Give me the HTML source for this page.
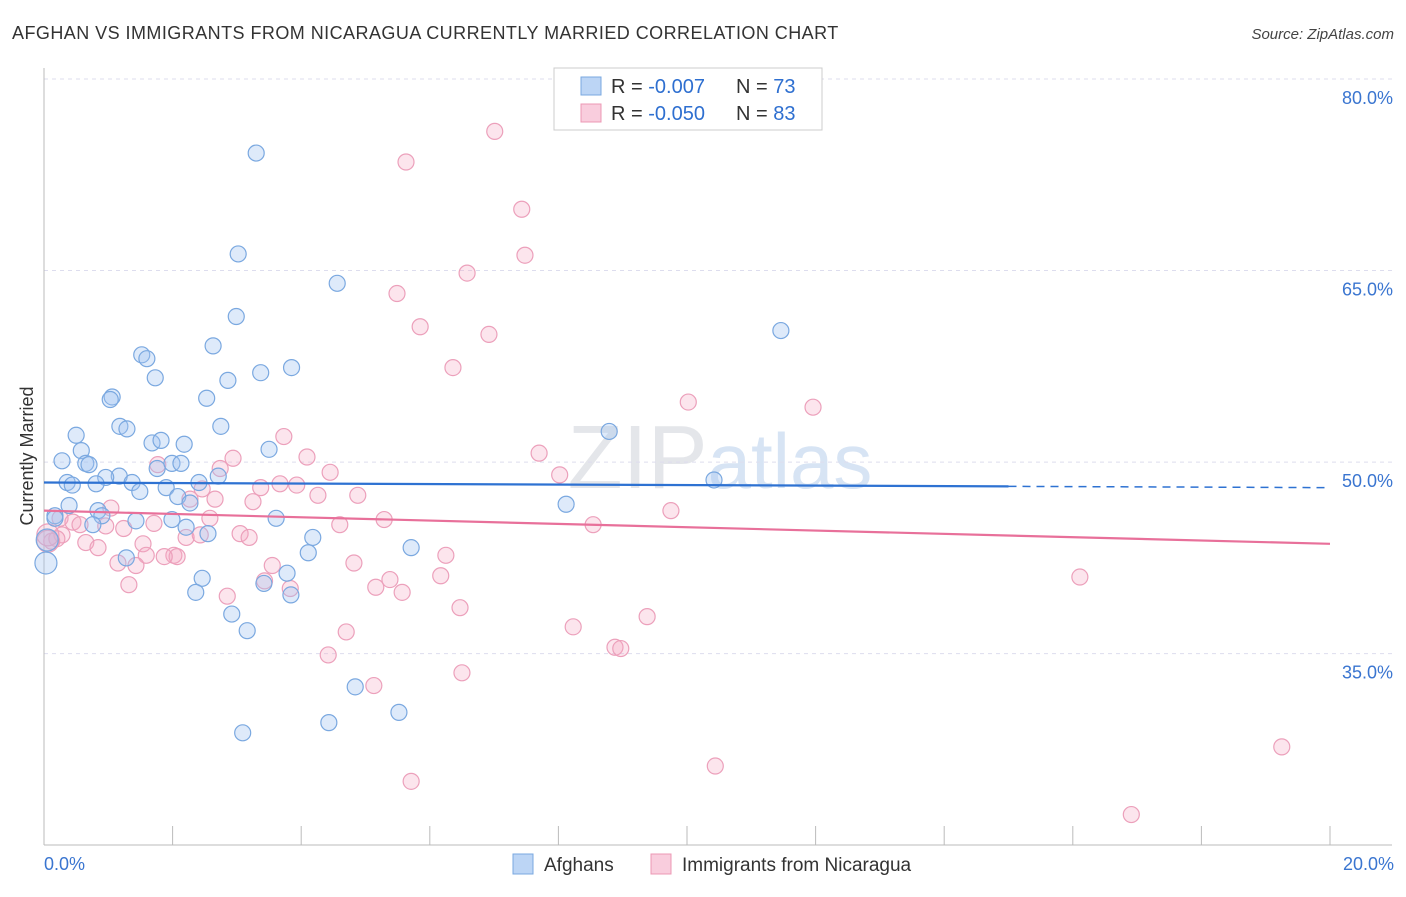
<!DOCTYPE html>
<html><head><meta charset="utf-8"><style>
body{margin:0;background:#fff;font-family:"Liberation Sans",sans-serif;}
svg text{font-family:"Liberation Sans",sans-serif;}
</style></head><body>
<svg id="chart" width="1406" height="892" xmlns="http://www.w3.org/2000/svg">
<text x="12" y="39" font-size="18" fill="#333" letter-spacing="0.45">AFGHAN VS IMMIGRANTS FROM NICARAGUA CURRENTLY MARRIED CORRELATION CHART</text>
<text x="1394" y="39" font-size="15" fill="#444" text-anchor="end" font-style="italic">Source: ZipAtlas.com</text>
<text x="720" y="488" font-size="90" fill="#e4e6ea" text-anchor="middle" font-family="Liberation Serif"><tspan>ZIP</tspan><tspan font-family="Liberation Sans" font-size="78" fill="#d7e4f4">atlas</tspan></text>
<g id="grid"></g>
<g id="axes"></g>
<text transform="translate(33,456) rotate(-90)" font-size="18" fill="#333" text-anchor="middle">Currently Married</text>
<g id="marks"></g>
<g id="lines"></g>
<g>
<rect x="554" y="68" width="268" height="62" fill="#fff" stroke="#ccc"/>
<rect x="581" y="77" width="20" height="18" fill="#bcd5f5" stroke="#7aa8e0"/>
<rect x="581" y="104" width="20" height="18" fill="#f9cddd" stroke="#ec98b4"/>
<text x="611" y="93" font-size="20" fill="#333">R = <tspan fill="#2e6fd0">-0.007</tspan><tspan x="736">N = </tspan><tspan fill="#2e6fd0">73</tspan></text>
<text x="611" y="120" font-size="20" fill="#333">R = <tspan fill="#2e6fd0">-0.050</tspan><tspan x="736">N = </tspan><tspan fill="#2e6fd0">83</tspan></text>
</g>
<g>
<rect x="513" y="854" width="20" height="20" fill="#bcd5f5" stroke="#7aa8e0"/>
<text x="544" y="871" font-size="19" fill="#333">Afghans</text>
<rect x="651" y="854" width="20" height="20" fill="#f9cddd" stroke="#ec98b4"/>
<text x="682" y="871" font-size="19" fill="#333">Immigrants from Nicaragua</text>
</g>
</svg>
<script>
const yTicks=[80,65,50,35];
const xTickLabels=["0.0%","20.0%"];
const afghanX=[3.30,3.02,4.56,2.99,11.46,2.63,1.52,1.60,1.73,2.86,3.37,3.85,1.06,1.03,2.53,1.18,1.29,2.75,0.50,1.68,1.82,2.18,8.79,3.50,0.58,0.28,0.65,0.70,1.76,1.99,2.13,1.17,0.96,1.37,0.36,0.44,0.81,1.49,1.90,2.41,2.71,10.42,2.08,2.27,8.12,0.39,0.84,0.17,0.90,1.43,1.99,3.61,0.76,2.21,2.55,4.18,0.05,0.03,1.28,4.11,5.71,3.78,2.46,3.42,2.36,3.84,2.92,3.16,4.84,5.52,4.43,3.09,0.17];
const afghanY=[74.2,66.3,64.0,61.4,60.3,59.1,58.4,58.1,56.6,56.4,57.0,57.4,55.1,54.9,55.0,52.8,52.6,52.8,52.1,51.5,51.7,51.4,52.4,51.0,50.9,50.1,49.9,49.8,49.5,49.9,49.9,48.9,48.8,48.4,48.4,48.2,48.3,47.7,48.0,48.4,48.9,48.6,47.3,46.8,46.7,46.6,46.2,45.8,45.8,45.4,45.5,45.6,45.1,44.9,44.4,44.1,43.9,42.1,42.5,42.9,43.3,41.3,40.9,40.5,39.8,39.6,38.1,36.8,32.4,30.4,29.6,28.8,45.6];
const nicX=[7.01,5.63,7.43,7.48,6.58,5.49,5.85,6.92,6.36,10.02,11.96,3.73,7.70,2.94,4.09,2.74,4.45,1.77,8.02,3.67,3.93,3.37,2.46,4.26,4.88,2.27,2.66,3.25,9.75,1.04,0.25,0.45,0.56,0.96,1.71,2.58,5.29,4.60,8.54,1.24,0.28,0.20,2.21,2.43,3.05,3.19,0.65,0.84,1.54,0.12,2.02,2.07,1.87,1.59,6.25,1.15,1.43,4.82,3.55,6.17,5.38,16.11,1.32,3.43,5.16,5.57,3.83,2.85,6.47,9.38,8.23,4.70,8.88,8.97,4.42,6.50,5.13,19.25,10.44,5.71,16.91,0.06,0.06];
const nicY=[75.9,73.5,69.8,66.2,64.8,63.2,60.6,60.0,57.4,54.7,54.3,52.0,50.7,50.3,50.4,49.5,49.2,49.8,49.0,48.3,48.2,48.0,47.9,47.4,47.4,47.1,47.1,46.9,46.2,46.4,45.6,45.3,45.1,45.0,45.2,45.6,45.5,45.1,45.1,44.8,44.3,44.0,44.1,44.3,44.4,44.1,43.7,43.3,43.6,43.8,42.7,42.6,42.6,42.7,42.7,42.1,41.9,42.1,41.9,41.1,40.8,41.0,40.4,40.7,40.2,39.8,40.1,39.5,38.6,37.9,37.1,36.7,35.5,35.4,34.9,33.5,32.5,27.7,26.2,25.0,22.4,43.8,44.3];
const afghanTrend=[48.4,48.0];
const nicTrend=[46.2,43.6];
const NS="http://www.w3.org/2000/svg";
const xs=v=>44+v*64.3;
const ys=v=>79+(80-v)*12.77;
function mk(tag,attrs,parent){const e=document.createElementNS(NS,tag);for(const k in attrs)e.setAttribute(k,attrs[k]);parent.appendChild(e);return e;}
const grid=document.getElementById('grid'),axes=document.getElementById('axes'),marks=document.getElementById('marks'),lines=document.getElementById('lines');
yTicks.forEach(t=>{
  const l=mk('line',{x1:44,x2:1392,y1:ys(t),y2:ys(t),stroke:'#dde',"stroke-dasharray":'4,4'},grid);
  
  
  const tx=mk('text',{x:1393,y:ys(t)+25,"font-size":18,fill:'#3a75d0',"text-anchor":'end'},grid);
  tx.textContent=t.toFixed(1)+'%';
  
  
});
const ay=mk('line',{x1:44,x2:44,y1:68,y2:845,stroke:'#bbb'},axes);


const ax=mk('line',{x1:44,x2:1392,y1:845,y2:845,stroke:'#bbb'},axes);


for(let i=1;i<=10;i++){
  const t=mk('line',{x1:xs(i*2),x2:xs(i*2),y1:826,y2:845,stroke:'#bbb'},axes);
  
  
}
[[0,'start',44],[20,'end',1394]].forEach((d,i)=>{
  const tx=mk('text',{x:d[2],y:870,"font-size":18,fill:'#3a75d0',"text-anchor":d[1]},axes);
  tx.textContent=xTickLabels[i];
  
  
});
function pts(X,Y,fill,stroke,name){
  X.forEach((x,i)=>{
    const big=(x<0.1);
    const c=mk('circle',{cx:xs(x),cy:ys(Y[i]),r:big?11:8,fill:fill,stroke:stroke,"stroke-width":1.2},marks);
    
    
  });
}
pts(nicX,nicY,'rgba(245,170,195,0.3)','#eca0bb','nicaragua-point');
pts(afghanX,afghanY,'rgba(160,196,240,0.35)','#7aa8e0','afghan-point');
const bx=15.0;
const bmid=afghanTrend[0]+(afghanTrend[1]-afghanTrend[0])*bx/20;
const b1=mk('line',{x1:xs(0),y1:ys(afghanTrend[0]),x2:xs(bx),y2:ys(bmid),stroke:'#2e72d2',"stroke-width":2.2},lines);


const b2=mk('line',{x1:xs(bx),y1:ys(bmid),x2:xs(20),y2:ys(afghanTrend[1]),stroke:'#2e72d2',"stroke-width":1.5,"stroke-dasharray":'8,6'},lines);


const p1=mk('line',{x1:xs(0),y1:ys(nicTrend[0]),x2:xs(20),y2:ys(nicTrend[1]),stroke:'#e8709a',"stroke-width":2.2},lines);


</script>
</body></html>
